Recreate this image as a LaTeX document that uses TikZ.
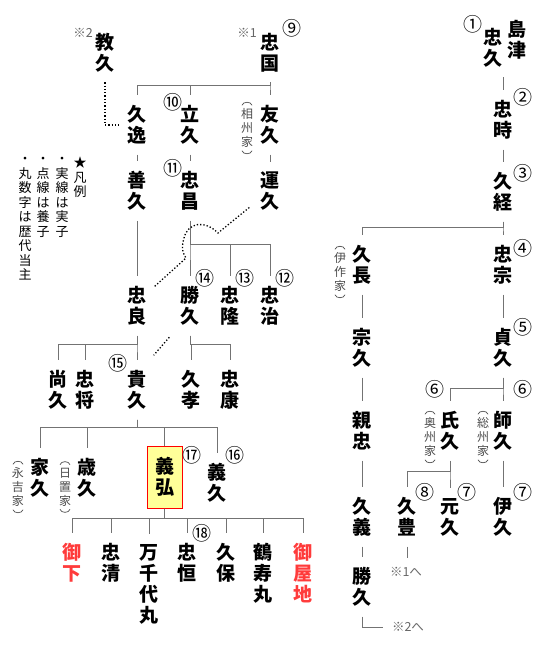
\documentclass[tikz,border=0pt]{standalone}
\usepackage{fontspec}
\newfontfamily\jp{Noto Sans CJK JP}
\usetikzlibrary{positioning}
\definecolor{boxfill}{HTML}{FFFF99}
\definecolor{hime}{HTML}{FF3B3B}

\begin{document}
\begin{tikzpicture}[x=1pt,y=-1pt,
       fork/.style={to path={(\tikztostart) -- ++(0,#1) -| (\tikztotarget)}}]
       \tikzstyle{every node}=[font=\jp]
       \tikzstyle{person}=[align=center,inner xsep=0pt,inner ysep=10pt,font=\jp\bfseries\fontsize{19}{21}\selectfont]
       \tikzstyle{woman}=[person,text=hime]
       \tikzstyle{num}=[inner sep=0pt,font=\jp\fontsize{19}{19}\selectfont]
       \tikzstyle{house}=[align=center,inner xsep=0pt,inner ysep=3pt,text=black!70,font=\jp\fontsize{12}{14}\selectfont]
       \tikzstyle{paren}=[draw=black!70,line width=0.7pt]
       \tikzstyle{legend}=[align=center,inner sep=0pt,anchor=north,font=\jp\fontsize{13}{14.5}\selectfont]
       \tikzstyle{note}=[inner sep=0pt,text=black!60,font=\jp\fontsize{12.5}{12.5}\selectfont]
       \tikzstyle{kin}=[draw=black!55,line width=1pt]
       \tikzstyle{adopt}=[draw=black,line width=1.3pt,dash pattern=on 1.3pt off 2pt]

       \useasboundingbox (0,0) rectangle (540,646);

       \node[person] (shimazu) at (517,40) {島\\津};
       \node[person] (tadahisa) at (493,47.5) {忠\\久};
       \node[num] (o_1) at (473,24) {①};
       \node[person] (tadatoki) at (503,120) {忠\\時};
       \node[num] (o_2) at (523,97) {②};
       \node[person] (hisatsune) at (503,192) {久\\経};
       \node[num] (o_3) at (523,173) {③};
       \node[person] (tadamune) at (503,265) {忠\\宗};
       \node[num] (o_4) at (523,248) {④};
       \node[person] (hisanaga) at (362,265) {久\\長};
       \node[house] (h_isaku) at (340,272) {伊\\作\\家};
       \node[person] (sadahisa) at (503,348) {貞\\久};
       \node[num] (o_5) at (523,327) {⑤};
       \node[person] (munehisa) at (362,348) {宗\\久};
       \node[person] (morohisa) at (503,431) {師\\久};
       \node[num] (o_6b) at (523,389) {⑥};
       \node[house] (h_sou) at (483,437) {総\\州\\家};
       \node[person] (ujihisa) at (450,431) {氏\\久};
       \node[num] (o_6a) at (435,389) {⑥};
       \node[house] (h_ou) at (430,437) {奥\\州\\家};
       \node[person] (chikatada) at (362,431) {親\\忠};
       \node[person] (hisatoyo) at (407,517) {久\\豊};
       \node[num] (o_8) at (425,492) {⑧};
       \node[person] (motohisa) at (450,517) {元\\久};
       \node[num] (o_7a) at (467,492) {⑦};
       \node[person] (korehisa) at (503,517) {伊\\久};
       \node[num] (o_7b) at (523,492) {⑦};
       \node[person] (hisayoshi) at (362,517) {久\\義};
       \node[person] (katsuhisa_i) at (362,587) {勝\\久};
       \node[note] (r_1) at (406,572) {※1へ};
       \node[note] (r_2) at (408,627) {※2へ};

       \node[person] (norihisa) at (105,52.5) {教\\久};
       \node[note] (m_2) at (83,33) {※2};
       \node[person] (tadakuni) at (270,52.5) {忠\\国};
       \node[note] (m_1) at (247,33) {※1};
       \node[num] (o_9) at (292,28) {⑨};
       \node[person] (hisayasu) at (137,125) {久\\逸};
       \node[person] (tatehisa) at (190,125) {立\\久};
       \node[num] (o_10) at (173,102) {⑩};
       \node[person] (tomohisa) at (270,125) {友\\久};
       \node[house] (h_sou2) at (247,128) {相\\州\\家};
       \node[person] (yoshihisa_i) at (137,191) {善\\久};
       \node[person] (tadamasa) at (190,191) {忠\\昌};
       \node[num] (o_11) at (173,168) {⑪};
       \node[person] (unkyu) at (270,191) {運\\久};
       \node[person] (tadayoshi) at (137,306) {忠\\良};
       \node[person] (katsuhisa) at (190,306) {勝\\久};
       \node[num] (o_14) at (205,278) {⑭};
       \node[person] (tadataka) at (230,306) {忠\\隆};
       \node[num] (o_13) at (245,278) {⑬};
       \node[person] (tadaharu) at (270,306) {忠\\治};
       \node[num] (o_12) at (285,278) {⑫};
       \node[person] (naohisa) at (58,390) {尚\\久};
       \node[person] (tadamasa_s) at (85,390) {忠\\将};
       \node[person] (takahisa) at (137,390) {貴\\久};
       \node[num] (o_15) at (118,363) {⑮};
       \node[person] (hisataka) at (191,390) {久\\孝};
       \node[person] (tadayasu) at (230,390) {忠\\康};
       \node[person] (iehisa) at (40,478) {家\\久};
       \node[house] (h_naga) at (18,487) {永\\吉\\家};
       \node[person] (toshihisa) at (87,478) {歳\\久};
       \node[house] (h_hioki) at (65,487) {日\\置\\家};
       \node[person,draw=red,line width=1pt,fill=boxfill,minimum width=35pt,minimum height=62pt,inner ysep=0pt] (yoshihiro) at (164.5,477) {義\\弘};
       \node[num] (o_17) at (192,455) {⑰};
       \node[person] (yoshihisa) at (217,483) {義\\久};
       \node[num] (o_16) at (235,455) {⑯};
       \node[woman] (gyoka) at (72,562.5) {御\\下};
       \node[person] (tadakiyo) at (111,562.5) {忠\\清};
       \node[person] (manchiyo) at (149,584.5) {万\\千\\代\\丸};
       \node[person] (tadatsune) at (187,562.5) {忠\\恒};
       \node[num] (o_18) at (202,533) {⑱};
       \node[person] (hisayasu_s) at (226,562.5) {久\\保};
       \node[person] (tsurujumaru) at (263,573) {鶴\\寿\\丸};
       \node[woman] (oyaji) at (303,573) {御\\屋\\地};

       \node[legend] (l_1) at (80,157) {★\\凡\\例};
       \node[legend] (l_2) at (62,157) {・\\実\\線\\は\\実\\子};
       \node[legend] (l_3) at (43,157) {・\\点\\線\\は\\養\\子};
       \node[legend] (l_4) at (25,157) {・\\丸\\数\\字\\は\\歴\\代\\当\\主};

       \foreach \h in {h_isaku,h_sou,h_ou,h_sou2,h_naga,h_hioki}{
         \draw[paren] ([xshift=-5pt]\h.north) .. controls +(1,-4) and +(-1,-4) .. ([xshift=5pt]\h.north);
         \draw[paren] ([xshift=-5pt]\h.south) .. controls +(1,4) and +(-1,4) .. ([xshift=5pt]\h.south);
       }

       \draw[kin] (tadatoki.north |- tadahisa.south) -- (tadatoki.north);
       \draw[kin] (tadatoki.south) -- (hisatsune.north);
       \path[kin] (hisatsune.south) edge[fork=6] (tadamune.north) edge[fork=6] (hisanaga.north);
       \draw[kin] (tadamune.south) -- (sadahisa.north);
       \draw[kin] (hisanaga.south) -- (munehisa.north);
       \path[kin] (sadahisa.south) edge[fork=11] (morohisa.north) edge[fork=11] (ujihisa.north);
       \draw[kin] (munehisa.south) -- (chikatada.north);
       \path[kin] (ujihisa.south) edge[fork=11] (motohisa.north) edge[fork=11] (hisatoyo.north);
       \draw[kin] (morohisa.south) -- (korehisa.north);
       \draw[kin] (chikatada.south) -- (hisayoshi.north);
       \draw[kin] (hisayoshi.south) -- (katsuhisa_i.north);
       \draw[kin,shorten >=9pt] (hisatoyo.south) -- (hisatoyo.south |- r_1.north);
       \draw[kin,shorten >=9pt] (katsuhisa_i.south) |- (r_2.west);

       \path[kin] (tadakuni.south) edge[fork=3] (tomohisa.north) edge[fork=3] (tatehisa.north)
              edge[fork=3] (hisayasu.north);
       \draw[adopt,shorten >=8pt] (norihisa.south) |- (hisayasu.west);
       \draw[kin] (hisayasu.south) -- (yoshihisa_i.north);
       \draw[kin] (tatehisa.south) -- (tadamasa.north);
       \draw[kin] (tomohisa.south) -- (unkyu.north);
       \draw[kin] (yoshihisa_i.south) -- (tadayoshi.north);
       \path[kin] (tadamasa.south) edge[fork=24] (katsuhisa.north) edge[fork=24] (tadataka.north)
              edge[fork=24] (tadaharu.north);
       \draw[adopt] ([xshift=-11pt,yshift=13pt]unkyu.south west) -- (218,233)
              .. controls (205,220) and (188,222) .. (184,238)
              .. controls (181,248) and (183,254) .. (186,258)
              -- ([xshift=7pt,yshift=-11pt]tadayoshi.north east);
       \path[kin] (tadayoshi.south) edge[fork=9] (takahisa.north) edge[fork=9] (tadamasa_s.north)
              edge[fork=9] (naohisa.north);
       \path[kin] (katsuhisa.south) edge[fork=9] (hisataka.north) edge[fork=9] (tadayasu.north);
       \draw[adopt] ([xshift=-11pt,yshift=-1.5pt]katsuhisa.south west) -- ([xshift=7pt,yshift=5pt]takahisa.north east);
       \path[kin] (takahisa.south) edge[fork=8] (iehisa.north) edge[fork=8] (toshihisa.north)
              edge[fork=8] (yoshihiro.north) edge[fork=8] (yoshihisa.north);
       \path[kin] (yoshihiro.south) edge[fork=10] (gyoka.north) edge[fork=10] (tadakiyo.north)
              edge[fork=10] (manchiyo.north) edge[fork=10] (tadatsune.north)
              edge[fork=10] (hisayasu_s.north) edge[fork=10] (tsurujumaru.north)
              edge[fork=10] (oyaji.north);
     \end{tikzpicture}
\end{document}
